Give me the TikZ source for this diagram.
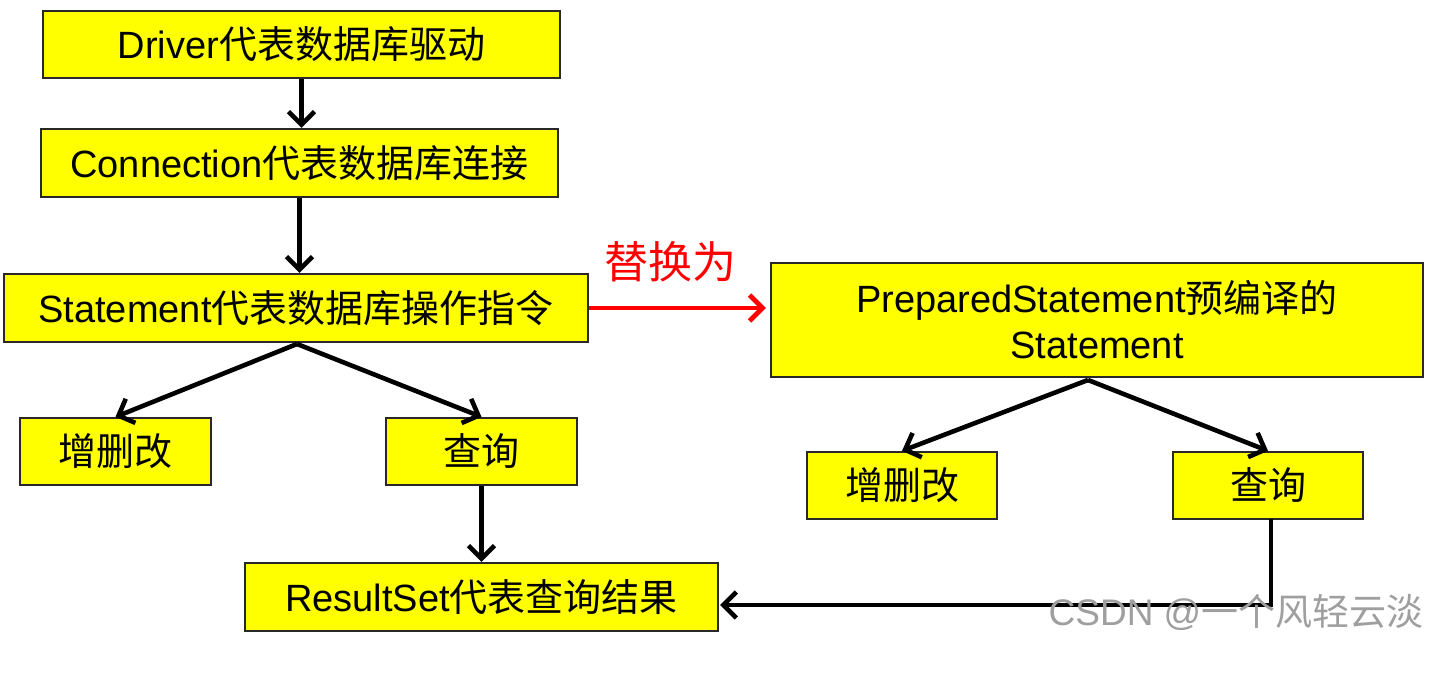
\documentclass[tikz,border=0pt]{standalone}
\usepackage{fontspec}
\setmainfont{Liberation Sans}
\newfontfamily\cjk{Noto Sans CJK SC}
\usetikzlibrary{arrows.meta}
\definecolor{boxyellow}{RGB}{255,255,0}
\definecolor{boxline}{RGB}{40,40,40}
\newcommand{\zh}[1]{{\cjk #1}}
\begin{document}
\begin{tikzpicture}[x=1pt,y=-1pt,
  box/.style={draw=boxline, line width=2.2pt, fill=boxyellow, inner sep=0pt,
    font=\fontsize{38}{46}\selectfont, align=center},
  conn/.style={line width=4.6pt, -{Straight Barb[length=13pt,width=26pt]}},
  redconn/.style={red, line width=4.8pt, -{Straight Barb[length=13pt,width=26pt]}},
]
\useasboundingbox (0,0) rectangle (1446,676);
\fill[white] (0,0) rectangle (1446,676);
\node[box, minimum width=517pt, minimum height=67pt] (drv) at (301.5,44.5) {Driver\zh{代表数据库驱动}};
\node[box, minimum width=517pt, minimum height=68pt] (con) at (299.5,163) {Connection\zh{代表数据库连接}};
\node[box, minimum width=584pt, minimum height=68pt] (stm) at (296,308) {Statement\zh{代表数据库操作指令}};
\node[box, minimum width=191pt, minimum height=67pt] (zsg1) at (115.5,451.5) {\zh{增删改}};
\node[box, minimum width=191pt, minimum height=67pt] (cx1) at (481.5,451.5) {\zh{查询}};
\node[box, minimum width=473pt, minimum height=68pt] (rs) at (481.5,597) {ResultSet\zh{代表查询结果}};
\node[box, minimum width=652pt, minimum height=114pt] (ps) at (1097,320) {PreparedStatement\zh{预编译的}\\Statement};
\node[box, minimum width=190pt, minimum height=67pt] (zsg2) at (902,485.5) {\zh{增删改}};
\node[box, minimum width=190pt, minimum height=67pt] (cx2) at (1268,485.5) {\zh{查询}};

\coordinate (stmout) at (297,344);
\coordinate (psout) at (1088,380);
\coordinate (cx2out) at (1271,519);
\coordinate (rsin) at (720,605);

\draw[conn] (drv.south) -- (drv.south |- con.north);
\draw[conn] (con.south) -- (con.south |- stm.north);
\draw[conn] (stmout) -- (zsg1.north);
\draw[conn] (stmout) -- (cx1.north);
\draw[conn] (cx1.south) -- (rs.north);
\draw[redconn, shorten >=4pt] (stm.east) -- (stm.east -| ps.west);
\node[text=red, font=\cjk\fontsize{44}{48}\selectfont] (rep) at (670,262) {替换为};
\draw[conn] (psout) -- (zsg2.north);
\draw[conn] (psout) -- (cx2.north);
\draw[conn] (cx2out) |- (rsin);

\node[text=gray!75, font=\fontsize{37}{40}\selectfont] (wm) at (1236,612) {CSDN @\zh{一个风轻云淡}};
\end{tikzpicture}
\end{document}
